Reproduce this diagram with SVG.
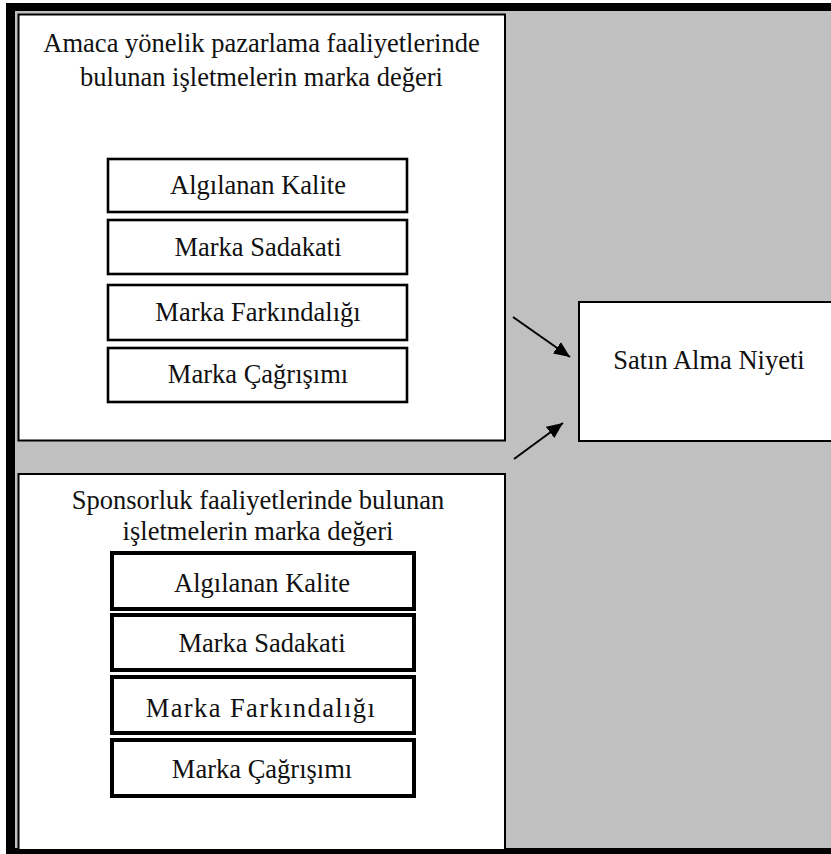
<svg xmlns="http://www.w3.org/2000/svg" width="831" height="854" viewBox="0 0 831 854">
<style>
text{font-family:"Liberation Serif","Times New Roman",serif;font-size:26.5px;fill:#111;text-anchor:middle}
.panel{fill:#fff;stroke:#000;stroke-width:2}
.sub1{fill:#fff;stroke:#000;stroke-width:2.6}
.sub2{fill:#fff;stroke:#000;stroke-width:4}
.arrow{stroke:#000;stroke-width:2;fill:none;marker-end:url(#ah)}
</style>
<defs>
<marker id="ah" viewBox="0 0 16 14" refX="16" refY="7" markerWidth="16" markerHeight="14" markerUnits="userSpaceOnUse" orient="auto">
<path d="M0,0 L16,7 L0,14 z" fill="#000"/>
</marker>
</defs>
<g id="frame">
<rect x="6" y="3" width="830" height="855" fill="#000"/>
<rect x="15" y="11" width="820" height="837" fill="#c0c0c0"/>
</g>
<g id="top-panel">
<rect class="panel" x="18.5" y="14.5" width="486.5" height="426"/>
<text x="261.5" y="52">Amaca yönelik pazarlama faaliyetlerinde</text>
<text x="261.5" y="86">bulunan işletmelerin marka değeri</text>
</g>
<g id="top-algilanan-kalite">
<rect class="sub1" x="108" y="159" width="299" height="53"/>
<text x="258" y="194">Algılanan Kalite</text>
</g>
<g id="top-marka-sadakati">
<rect class="sub1" x="108" y="220" width="299" height="54"/>
<text x="258" y="256">Marka Sadakati</text>
</g>
<g id="top-marka-farkindaligi">
<rect class="sub1" x="108" y="285" width="299" height="55"/>
<text x="258" y="321">Marka Farkındalığı</text>
</g>
<g id="top-marka-cagrisimi">
<rect class="sub1" x="108" y="348" width="299" height="54"/>
<text x="258" y="383">Marka Çağrışımı</text>
</g>
<g id="bottom-panel">
<rect class="panel" x="18.5" y="474" width="486.5" height="376"/>
<text x="258" y="509">Sponsorluk faaliyetlerinde bulunan</text>
<text x="258" y="540">işletmelerin marka değeri</text>
</g>
<g id="bottom-algilanan-kalite">
<rect class="sub2" x="112" y="553" width="302" height="56"/>
<text x="262" y="592">Algılanan Kalite</text>
</g>
<g id="bottom-marka-sadakati">
<rect class="sub2" x="112" y="615" width="302" height="55"/>
<text x="262" y="652">Marka Sadakati</text>
</g>
<g id="bottom-marka-farkindaligi">
<rect class="sub2" x="112" y="677" width="302" height="56"/>
<text x="261" y="717" style="letter-spacing:1.4px">Marka Farkındalığı</text>
</g>
<g id="bottom-marka-cagrisimi">
<rect class="sub2" x="112" y="740" width="302" height="56"/>
<text x="262" y="778">Marka Çağrışımı</text>
</g>
<g id="satin-alma-niyeti">
<rect class="panel" x="579" y="302" width="260" height="139"/>
<text x="709" y="369">Satın Alma Niyeti</text>
</g>
<g id="connectors">
<line class="arrow" x1="513" y1="317" x2="570" y2="357"/>
<line class="arrow" x1="514" y1="459" x2="563" y2="423"/>
</g>
</svg>
